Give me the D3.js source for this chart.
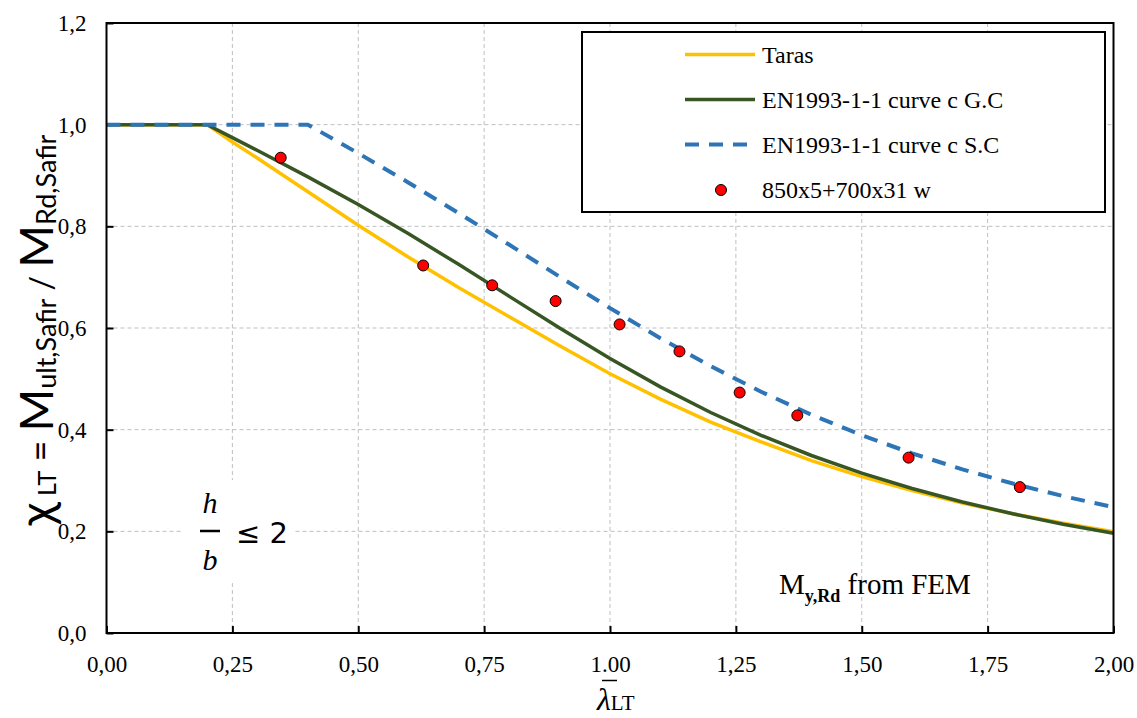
<!DOCTYPE html>
<html>
<head>
<meta charset="utf-8">
<script src="https://cdn.jsdelivr.net/npm/d3@7"></script>
<style>
  html, body { margin: 0; padding: 0; background: #fff; }
  svg { display: block; }
</style>
</head>
<body>
<svg id="chart" width="1137" height="718"></svg>
<script>
// Non-dimensional slenderness for the design curves
const lambdaGC = [0, 0.2, 0.25, 0.3, 0.4, 0.5, 0.6, 0.7, 0.8, 0.9, 1.0, 1.1, 1.2, 1.3, 1.4, 1.5, 1.6, 1.7, 1.8, 1.9, 2.0];
const chiTaras = [1, 1, 0.966, 0.934, 0.868, 0.802, 0.739, 0.679, 0.622, 0.565, 0.510, 0.460, 0.415, 0.376, 0.339, 0.3075, 0.280, 0.2557, 0.2345, 0.216, 0.199];
const chiGC    = [1, 1, 0.9746, 0.9491, 0.8973, 0.8430, 0.7854, 0.7247, 0.6622, 0.5998, 0.5399, 0.4842, 0.4338, 0.3888, 0.3492, 0.3145, 0.2842, 0.2577, 0.2345, 0.2141, 0.1962];

const lambdaSC = [0, 0.4, 0.5, 0.6, 0.7, 0.8, 0.9, 1.0, 1.1, 1.2, 1.3, 1.4, 1.5, 1.6, 1.7, 1.8, 1.9, 2.0];
const chiSC    = [1, 1, 0.9438, 0.8859, 0.8257, 0.7637, 0.7009, 0.6391, 0.5800, 0.5249, 0.4746, 0.4294, 0.3891, 0.3534, 0.3219, 0.2940, 0.2693, 0.2474];

// SAFIR results for the 850x5+700x31 welded section
const lambdaFEM = [0.346, 0.629, 0.766, 0.892, 1.019, 1.138, 1.2575, 1.372, 1.593, 1.814];
const chiFEM    = [0.935, 0.723, 0.684, 0.653, 0.607, 0.554, 0.473, 0.428, 0.345, 0.287];

const xTicks = [0, 0.25, 0.5, 0.75, 1.0, 1.25, 1.5, 1.75, 2.0];
const xTickLabels = ["0,00", "0,25", "0,50", "0,75", "1.00", "1,25", "1,50", "1,75", "2,00"];
const yTicks = [0, 0.2, 0.4, 0.6, 0.8, 1.0, 1.2];
const yTickLabels = ["0,0", "0,2", "0,4", "0,6", "0,8", "1,0", "1,2"];

const seriesNames = ["Taras", "EN1993-1-1 curve c G.C", "EN1993-1-1 curve c S.C", "850x5+700x31 w"];

const svg = d3.select("#chart");
const plot = { left: 106.5, right: 1113.5, top: 23, bottom: 633 };

const x = d3.scaleLinear().domain([0, 2]).range([plot.left, plot.right]);
const y = d3.scaleLinear().domain([0, 1.2]).range([plot.bottom, plot.top]);

const serif = "'Liberation Serif', 'Times New Roman', serif";

// Grid
const grid = svg.append("g").attr("stroke", "#BFBFBF").attr("stroke-width", 1).attr("stroke-dasharray", "4,3");
grid.selectAll("line.v").data(xTicks.slice(1, -1)).join("line")
  .attr("x1", d => x(d)).attr("x2", d => x(d))
  .attr("y1", plot.top).attr("y2", plot.bottom);
grid.selectAll("line.h").data(yTicks.slice(1, -1)).join("line")
  .attr("y1", d => y(d)).attr("y2", d => y(d))
  .attr("x1", plot.left).attr("x2", plot.right);

// Axes with inward ticks
const xAxis = d3.axisBottom(x).tickValues(xTicks)
  .tickFormat((d, i) => xTickLabels[i]).tickSizeInner(-7).tickSizeOuter(0).tickPadding(23);
const yAxis = d3.axisLeft(y).tickValues(yTicks)
  .tickFormat((d, i) => yTickLabels[i]).tickSizeInner(-7).tickSizeOuter(0).tickPadding(20);

const gx = svg.append("g").attr("transform", `translate(0,${plot.bottom})`).call(xAxis);
const gy = svg.append("g").attr("transform", `translate(${plot.left},0)`).call(yAxis);
[gx, gy].forEach(g => {
  g.select(".domain").remove();
  g.selectAll(".tick line").attr("stroke", "#000").attr("stroke-width", 2);
  g.selectAll(".tick text").attr("fill", "#000").style("font-family", serif).style("font-size", "23px");
});

// Annotation h/b <= 2 with a white backing
const note = svg.append("g");
note.append("rect").attr("x", 183).attr("y", 480).attr("width", 112).attr("height", 103).attr("fill", "#fff");
note.append("text").attr("x", 210).attr("y", 513).attr("text-anchor", "middle")
  .style("font-family", serif).style("font-style", "italic").style("font-size", "30px").text("h");
note.append("line").attr("x1", 200).attr("x2", 220).attr("y1", 531).attr("y2", 531)
  .attr("stroke", "#000").attr("stroke-width", 2.5);
note.append("text").attr("x", 210).attr("y", 570).attr("text-anchor", "middle")
  .style("font-family", serif).style("font-style", "italic").style("font-size", "30px").text("b");
note.append("text").attr("x", 236).attr("y", 543)
  .style("font-family", "'DejaVu Sans', sans-serif").style("font-size", "29px").text("≤ 2");

// Curves
const line = d3.line().x(d => x(d[0])).y(d => y(d[1]));
const zip = (a, b) => a.map((v, i) => [v, b[i]]);

svg.append("path").datum(zip(lambdaGC, chiTaras)).attr("d", line)
  .attr("fill", "none").attr("stroke", "#FFC000").attr("stroke-width", 3.5);
svg.append("path").datum(zip(lambdaGC, chiGC)).attr("d", line)
  .attr("fill", "none").attr("stroke", "#375623").attr("stroke-width", 3.5);
svg.append("path").datum(zip(lambdaSC, chiSC)).attr("d", line)
  .attr("fill", "none").attr("stroke", "#2E75B6").attr("stroke-width", 4).attr("stroke-dasharray", "14,10");

// FEM points
svg.append("g").selectAll("circle").data(zip(lambdaFEM, chiFEM)).join("circle")
  .attr("cx", d => x(d[0])).attr("cy", d => y(d[1])).attr("r", 5.5)
  .attr("fill", "#FF0000").attr("stroke", "#000").attr("stroke-width", 1);

// Plot frame
svg.append("rect").attr("x", plot.left).attr("y", plot.top)
  .attr("width", plot.right - plot.left).attr("height", plot.bottom - plot.top)
  .attr("fill", "none").attr("stroke", "#000").attr("stroke-width", 2);

// Legend
const lg = svg.append("g");
lg.append("rect").attr("x", 582).attr("y", 32).attr("width", 523).attr("height", 180)
  .attr("fill", "#fff").attr("stroke", "#000").attr("stroke-width", 2);
const rows = [54.5, 99.5, 144.5, 190];
lg.append("line").attr("x1", 685).attr("x2", 755).attr("y1", rows[0]).attr("y2", rows[0])
  .attr("stroke", "#FFC000").attr("stroke-width", 3.5);
lg.append("line").attr("x1", 685).attr("x2", 755).attr("y1", rows[1]).attr("y2", rows[1])
  .attr("stroke", "#375623").attr("stroke-width", 3.5);
lg.append("line").attr("x1", 685).attr("x2", 755).attr("y1", rows[2]).attr("y2", rows[2])
  .attr("stroke", "#2E75B6").attr("stroke-width", 4).attr("stroke-dasharray", "14,10");
lg.append("circle").attr("cx", 721).attr("cy", rows[3]).attr("r", 5.5)
  .attr("fill", "#FF0000").attr("stroke", "#000").attr("stroke-width", 1);
lg.selectAll("text").data(seriesNames).join("text")
  .attr("x", 762).attr("y", (d, i) => rows[i]).attr("dy", "0.35em")
  .style("font-family", serif).style("font-size", "24px").text(d => d);

// FEM note
const fem = svg.append("text").attr("x", 779).attr("y", 594)
  .style("font-family", serif).style("font-size", "29px");
fem.append("tspan").text("M");
fem.append("tspan").attr("dy", 8).style("font-size", "18px").style("font-weight", "bold").text("y,Rd");
fem.append("tspan").attr("dy", -8).text(" from FEM");

// Axis titles
const xt = svg.append("text").attr("x", 597).attr("y", 710)
  .style("font-family", serif);
xt.append("tspan").style("font-style", "italic").style("font-size", "32px").text("λ");
xt.append("tspan").style("font-size", "21px").text("LT");
svg.append("line").attr("x1", 602).attr("x2", 617).attr("y1", 680.5).attr("y2", 680.5)
  .attr("stroke", "#000").attr("stroke-width", 1.5);

const yt = svg.append("text").attr("transform", "translate(53,330) rotate(-90)")
  .attr("text-anchor", "middle").style("font-family", "Lato, 'Open Sans', sans-serif").attr("fill", "#000");
yt.append("tspan").style("font-size", "48px").text("χ");
yt.append("tspan").attr("dy", 3).style("font-size", "25px").text(" LT");
yt.append("tspan").attr("dy", -3).style("font-size", "36px").text(" = ");
yt.append("tspan").style("font-size", "46px").text("M");
yt.append("tspan").attr("dy", 3).style("font-size", "27px").text("ult,Safir");
yt.append("tspan").attr("dy", -3).style("font-size", "32px").text(" / ");
yt.append("tspan").style("font-size", "46px").text("M");
yt.append("tspan").attr("dy", 3).style("font-size", "27px").text("Rd,Safir");
</script>
</body>
</html>
